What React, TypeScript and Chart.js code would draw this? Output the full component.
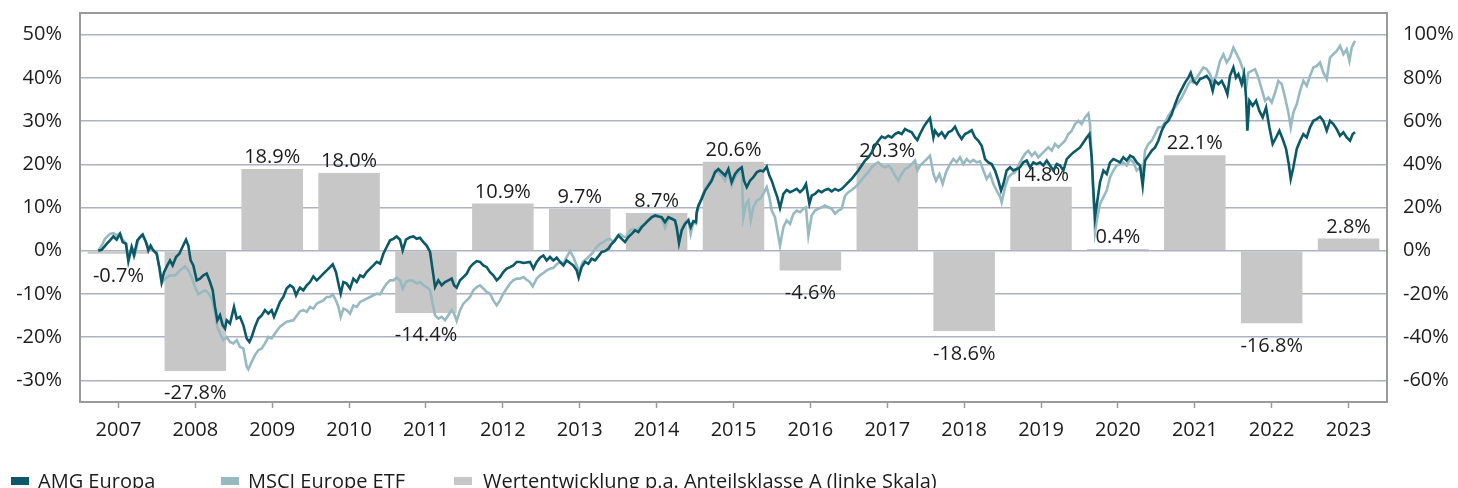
import React, { useEffect, useRef } from 'react';
import { Chart, registerables } from 'chart.js';

Chart.register(...registerables);

const FONT = '"Open Sans", sans-serif';
const TEXT = '#1c1c1c';

const years = ['2007', '2008', '2009', '2010', '2011', '2012', '2013', '2014', '2015', '2016', '2017', '2018', '2019', '2020', '2021', '2022', '2023'];
const annualReturns = [-0.7, -27.8, 18.9, 18.0, -14.4, 10.9, 9.7, 8.7, 20.6, -4.6, 20.3, -18.6, 14.8, 0.4, 22.1, -16.8, 2.8];
const leftTicks = [-30, -20, -10, 0, 10, 20, 30, 40, 50];
const rightTicks = [-60, -40, -20, 0, 20, 40, 60, 80, 100];

const amgDates = [
  2007.238, 2007.282, 2007.347, 2007.390, 2007.434, 2007.477, 2007.520, 2007.555, 2007.598, 2007.629, 2007.672, 2007.702, 2007.746, 2007.780, 2007.815, 2007.858, 2007.889, 2007.919, 2007.954, 2007.997,
  2008.032, 2008.062, 2008.093, 2008.136, 2008.171, 2008.205, 2008.249, 2008.292, 2008.322, 2008.353, 2008.379, 2008.409, 2008.439, 2008.474, 2008.518, 2008.561, 2008.604, 2008.648, 2008.691, 2008.726,
  2008.756, 2008.786, 2008.821, 2008.856, 2008.886, 2008.908, 2008.951, 2009.003, 2009.038, 2009.081, 2009.125, 2009.168, 2009.203, 2009.233, 2009.276, 2009.320, 2009.363, 2009.406, 2009.450, 2009.493,
  2009.523, 2009.558, 2009.601, 2009.645, 2009.688, 2009.732, 2009.775, 2009.810, 2009.840, 2009.862, 2009.905, 2009.949, 2009.992, 2010.035, 2010.079, 2010.122, 2010.166, 2010.209, 2010.252, 2010.287,
  2010.330, 2010.361, 2010.391, 2010.426, 2010.469, 2010.512, 2010.556, 2010.599, 2010.643, 2010.686, 2010.729, 2010.773, 2010.816, 2010.859, 2010.903, 2010.946, 2010.989, 2011.033, 2011.076, 2011.119,
  2011.162, 2011.197, 2011.240, 2011.292, 2011.336, 2011.379, 2011.422, 2011.466, 2011.509, 2011.553, 2011.587, 2011.618, 2011.661, 2011.704, 2011.748, 2011.791, 2011.834, 2011.865, 2011.899, 2011.943,
  2011.986, 2012.030, 2012.073, 2012.116, 2012.160, 2012.203, 2012.246, 2012.290, 2012.333, 2012.376, 2012.420, 2012.463, 2012.506, 2012.550, 2012.593, 2012.636, 2012.680, 2012.723, 2012.767, 2012.853,
  2012.897, 2012.940, 2012.983, 2013.027, 2013.070, 2013.113, 2013.157, 2013.200, 2013.244, 2013.287, 2013.330, 2013.374, 2013.417, 2013.460, 2013.486, 2013.525, 2013.569, 2013.612, 2013.655, 2013.699,
  2013.742, 2013.785, 2013.829, 2013.872, 2013.916, 2013.959, 2014.002, 2014.046, 2014.089, 2014.132, 2014.176, 2014.219, 2014.262, 2014.306, 2014.349, 2014.392, 2014.436, 2014.479, 2014.523, 2014.566,
  2014.609, 2014.653, 2014.696, 2014.739, 2014.761, 2014.791, 2014.826, 2014.869, 2014.913, 2014.943, 2014.978, 2015.012, 2015.021, 2015.043, 2015.086, 2015.130, 2015.173, 2015.216, 2015.260, 2015.303,
  2015.346, 2015.390, 2015.433, 2015.476, 2015.520, 2015.563, 2015.607, 2015.637, 2015.672, 2015.715, 2015.758, 2015.802, 2015.845, 2015.888, 2015.932, 2015.966, 2015.997, 2016.040, 2016.070, 2016.105,
  2016.149, 2016.192, 2016.235, 2016.279, 2016.322, 2016.365, 2016.409, 2016.443, 2016.487, 2016.517, 2016.560, 2016.604, 2016.647, 2016.690, 2016.734, 2016.777, 2016.821, 2016.864, 2016.907, 2016.951,
  2016.994, 2017.037, 2017.081, 2017.124, 2017.167, 2017.211, 2017.254, 2017.297, 2017.341, 2017.384, 2017.428, 2017.471, 2017.514, 2017.558, 2017.601, 2017.644, 2017.688, 2017.731, 2017.774, 2017.818,
  2017.861, 2017.891, 2017.926, 2017.970, 2018.013, 2018.056, 2018.100, 2018.121, 2018.165, 2018.208, 2018.251, 2018.295, 2018.338, 2018.381, 2018.425, 2018.468, 2018.511, 2018.555, 2018.598, 2018.642,
  2018.685, 2018.728, 2018.772, 2018.815, 2018.858, 2018.902, 2018.945, 2018.980, 2019.010, 2019.053, 2019.097, 2019.140, 2019.184, 2019.227, 2019.270, 2019.314, 2019.357, 2019.400, 2019.444, 2019.487,
  2019.530, 2019.574, 2019.617, 2019.660, 2019.704, 2019.747, 2019.791, 2019.834, 2019.877, 2019.921, 2019.964, 2020.007, 2020.051, 2020.094, 2020.129, 2020.159, 2020.181, 2020.202, 2020.233, 2020.267,
  2020.311, 2020.354, 2020.398, 2020.441, 2020.484, 2020.528, 2020.571, 2020.614, 2020.658, 2020.701, 2020.744, 2020.788, 2020.822, 2020.853, 2020.896, 2020.940, 2020.983, 2021.026, 2021.070, 2021.113,
  2021.156, 2021.200, 2021.243, 2021.286, 2021.330, 2021.373, 2021.416, 2021.447, 2021.481, 2021.525, 2021.568, 2021.612, 2021.655, 2021.698, 2021.733, 2021.763, 2021.807, 2021.850, 2021.893, 2021.924,
  2021.958, 2022.002, 2022.036, 2022.067, 2022.110, 2022.140, 2022.167, 2022.184, 2022.210, 2022.253, 2022.297, 2022.340, 2022.383, 2022.427, 2022.470, 2022.513, 2022.557, 2022.600, 2022.643, 2022.687,
  2022.722, 2022.748, 2022.782, 2022.826, 2022.869, 2022.912, 2022.956, 2022.999, 2023.042, 2023.086, 2023.129, 2023.172, 2023.216, 2023.259, 2023.302, 2023.346, 2023.389, 2023.433, 2023.476, 2023.519,
  2023.554, 2023.584,
];
const amgValues = [
  0, 0.4, 3.2, 4.8, 6.6, 5.1, 7.8, 4.0, 3.2, -4.9, 1.7, -2.2, 4.8, 6.3, 7.5, 4.0, 0.1, 2.4, 0.1, -1.4,
  -7.6, -14.5, -9.9, -6.8, -4.5, -6.8, -2.9, -1.4, 0.9, 3.2, 5.1, 2.4, -4.5, -6.8, -13.7, -12.9, -11.4, -10.6, -14.5, -18.3,
  -26.0, -32.2, -29.9, -34.5, -36.0, -32.2, -33.7, -26.0, -31.4, -30.6, -34.5, -40.6, -42.2, -39.9, -35.2, -31.4, -29.9, -27.5, -29.1, -27.5,
  -30.6, -27.5, -23.7, -21.4, -17.5, -16.0, -17.1, -20.6, -18.3, -17.1, -18.3, -16.0, -14.5, -11.9, -13.7, -12.2, -10.6, -9.1, -7.6, -6.3,
  -9.9, -15.2, -19.9, -14.5, -15.2, -17.5, -12.9, -14.5, -11.4, -12.2, -9.9, -8.3, -6.8, -5.2, -6.0, -1.4, 1.7, 4.8, 5.5, 6.6,
  5.1, 0.1, 5.1, 6.3, 6.6, 5.5, 6.0, 4.0, 2.4, -0.6, -9.1, -16.8, -13.7, -16.0, -14.5, -13.7, -12.9, -16.0, -17.1, -13.7,
  -12.2, -10.6, -7.6, -6.0, -4.8, -5.2, -6.8, -7.6, -9.9, -11.4, -13.7, -12.2, -9.9, -8.3, -7.6, -6.8, -5.2, -5.2, -5.7, -5.2,
  -8.3, -5.2, -3.2, -2.2, -4.5, -2.9, -4.5, -3.2, -5.2, -6.8, -4.5, -5.7, -6.8, -9.1, -12.5, -7.6, -5.2, -6.0, -3.7, -4.5,
  -2.6, -0.6, -0.2, 0.9, 3.2, 4.8, 7.1, 5.5, 4.0, 6.3, 7.8, 9.4, 8.6, 10.9, 12.4, 14.0, 15.5, 16.3, 15.8, 15.5,
  13.2, 15.5, 14.8, 14.0, 10.9, 3.5, 9.4, 12.4, 14.0, 10.9, 13.7, 13.2, 17.8, 20.9, 24.0, 27.8, 30.1, 32.4, 36.3, 37.8,
  36.3, 34.8, 37.8, 31.7, 35.5, 37.4, 38.6, 32.4, 29.4, 32.4, 34.0, 36.3, 37.1, 36.8, 38.9, 34.8, 32.4, 27.8, 24.8, 19.8,
  26.3, 28.1, 27.1, 27.8, 28.6, 27.1, 28.6, 30.9, 21.7, 25.5, 26.3, 27.8, 27.1, 28.1, 28.6, 27.5, 28.6, 27.8, 28.6, 30.1,
  31.7, 33.2, 35.2, 37.1, 39.4, 41.7, 43.2, 45.5, 48.6, 50.9, 52.8, 52.1, 53.2, 52.4, 54.0, 54.8, 54.0, 56.3, 55.5, 54.8,
  52.4, 51.2, 54.0, 57.1, 59.4, 61.4, 52.4, 55.5, 53.2, 54.8, 52.4, 54.8, 55.5, 57.4, 54.0, 51.7, 54.0, 54.8, 55.8, 52.4,
  50.9, 48.6, 42.4, 40.9, 40.1, 37.1, 32.4, 27.8, 30.9, 37.1, 38.6, 37.1, 37.8, 38.6, 40.9, 41.7, 38.6, 40.9, 40.1, 40.9,
  39.4, 41.7, 39.4, 37.1, 40.1, 39.4, 37.1, 42.4, 44.0, 45.5, 46.6, 47.8, 50.1, 52.4, 54.0, 43.2, 27.8, 15.5, 23.2, 31.7,
  37.1, 35.5, 40.9, 42.4, 41.7, 40.9, 43.2, 41.7, 44.0, 43.2, 40.9, 39.4, 30.1, 41.7, 44.0, 46.3, 47.8, 50.9, 55.5, 58.6,
  60.1, 63.2, 67.8, 71.7, 74.8, 77.8, 80.1, 82.4, 78.6, 77.1, 79.4, 80.1, 80.9, 78.6, 74.0, 78.6, 77.1, 78.6, 75.5, 72.4,
  80.9, 84.8, 80.1, 81.7, 77.1, 81.7, 70.9, 55.5, 69.4, 67.1, 69.4, 64.7, 61.7, 66.3, 57.1, 49.4, 52.4, 55.5, 51.7, 47.1,
  40.1, 33.2, 38.6, 47.1, 50.9, 53.9, 52.4, 57.1, 60.1, 60.9, 62.0, 60.1, 55.5, 60.1, 58.6, 56.3, 53.2, 54.8, 52.4, 50.9,
  54.0, 54.8,
];

const msciDates = [
  2007.238, 2007.282, 2007.325, 2007.390, 2007.434, 2007.477, 2007.520, 2007.555, 2007.598, 2007.629, 2007.672, 2007.715, 2007.759, 2007.815, 2007.858, 2007.902, 2007.954, 2007.997,
  2008.032, 2008.062, 2008.106, 2008.171, 2008.236, 2008.301, 2008.366, 2008.409, 2008.452, 2008.496, 2008.539, 2008.583, 2008.626, 2008.669, 2008.713, 2008.756, 2008.786, 2008.821, 2008.864, 2008.908,
  2008.951, 2008.994, 2009.038, 2009.081, 2009.125, 2009.168, 2009.190, 2009.233, 2009.276, 2009.320, 2009.363, 2009.406, 2009.450, 2009.493, 2009.536, 2009.601, 2009.688, 2009.775, 2009.862, 2009.905,
  2009.949, 2009.992, 2010.035, 2010.079, 2010.122, 2010.166, 2010.209, 2010.252, 2010.287, 2010.330, 2010.361, 2010.391, 2010.426, 2010.469, 2010.512, 2010.556, 2010.599, 2010.643, 2010.686, 2010.729,
  2010.773, 2010.816, 2010.859, 2010.903, 2010.946, 2010.989, 2011.033, 2011.076, 2011.119, 2011.162, 2011.197, 2011.240, 2011.292, 2011.336, 2011.379, 2011.422, 2011.466, 2011.509, 2011.553, 2011.587,
  2011.618, 2011.661, 2011.704, 2011.748, 2011.791, 2011.834, 2011.865, 2011.899, 2011.943, 2011.986, 2012.030, 2012.073, 2012.116, 2012.160, 2012.203, 2012.246, 2012.290, 2012.333, 2012.376, 2012.420,
  2012.463, 2012.506, 2012.550, 2012.593, 2012.636, 2012.680, 2012.723, 2012.767, 2012.810, 2012.853, 2012.888, 2012.940, 2012.983, 2013.027, 2013.070, 2013.113, 2013.157, 2013.200, 2013.244, 2013.287,
  2013.330, 2013.374, 2013.417, 2013.460, 2013.495, 2013.538, 2013.590, 2013.634, 2013.677, 2013.721, 2013.764, 2013.807, 2013.850, 2013.894, 2013.937, 2013.981, 2014.024, 2014.067, 2014.111, 2014.154,
  2014.197, 2014.241, 2014.306, 2014.349, 2014.392, 2014.436, 2014.479, 2014.523, 2014.566, 2014.609, 2014.653, 2014.696, 2014.739, 2014.791, 2014.826, 2014.869, 2014.913, 2014.943, 2014.978, 2015.012,
  2015.021, 2015.065, 2015.130, 2015.173, 2015.216, 2015.260, 2015.303, 2015.346, 2015.390, 2015.433, 2015.476, 2015.520, 2015.563, 2015.607, 2015.628, 2015.663, 2015.693, 2015.724, 2015.758, 2015.802,
  2015.845, 2015.888, 2015.932, 2015.966, 2015.997, 2016.040, 2016.070, 2016.105, 2016.149, 2016.192, 2016.235, 2016.279, 2016.322, 2016.365, 2016.409, 2016.443, 2016.474, 2016.517, 2016.560, 2016.604,
  2016.647, 2016.690, 2016.734, 2016.777, 2016.821, 2016.864, 2016.907, 2016.951, 2016.994, 2017.037, 2017.081, 2017.124, 2017.167, 2017.211, 2017.254, 2017.297, 2017.341, 2017.384, 2017.428, 2017.471,
  2017.514, 2017.558, 2017.601, 2017.644, 2017.688, 2017.731, 2017.774, 2017.818, 2017.861, 2017.891, 2017.926, 2017.970, 2018.013, 2018.056, 2018.100, 2018.134, 2018.178, 2018.221, 2018.264, 2018.316,
  2018.360, 2018.403, 2018.446, 2018.490, 2018.533, 2018.577, 2018.620, 2018.663, 2018.707, 2018.750, 2018.793, 2018.837, 2018.880, 2018.923, 2018.967, 2018.988, 2019.032, 2019.075, 2019.119, 2019.162,
  2019.205, 2019.249, 2019.292, 2019.335, 2019.379, 2019.422, 2019.465, 2019.509, 2019.552, 2019.595, 2019.639, 2019.682, 2019.726, 2019.769, 2019.812, 2019.856, 2019.899, 2019.942, 2019.986, 2020.029,
  2020.072, 2020.116, 2020.137, 2020.159, 2020.181, 2020.202, 2020.233, 2020.267, 2020.311, 2020.354, 2020.398, 2020.441, 2020.484, 2020.528, 2020.571, 2020.614, 2020.658, 2020.701, 2020.744, 2020.788,
  2020.822, 2020.853, 2020.896, 2020.940, 2020.983, 2021.026, 2021.070, 2021.113, 2021.156, 2021.200, 2021.243, 2021.286, 2021.330, 2021.373, 2021.416, 2021.447, 2021.481, 2021.525, 2021.568, 2021.612,
  2021.655, 2021.698, 2021.742, 2021.785, 2021.828, 2021.872, 2021.915, 2021.958, 2022.002, 2022.045, 2022.088, 2022.132, 2022.167, 2022.197, 2022.240, 2022.284, 2022.327, 2022.370, 2022.414, 2022.457,
  2022.500, 2022.544, 2022.587, 2022.631, 2022.674, 2022.717, 2022.748, 2022.782, 2022.826, 2022.869, 2022.912, 2022.956, 2022.999, 2023.042, 2023.086, 2023.129, 2023.172, 2023.216, 2023.259, 2023.302,
  2023.346, 2023.389, 2023.433, 2023.476, 2023.511, 2023.541, 2023.571, 2023.584,
];
const msciValues = [
  0, 2.4, 5.5, 7.8, 8.1, 7.1, 8.1, 5.1, 3.5, -3.7, 1.7, -1.4, 5.1, 7.1, 4.0, 0.9, 0.1, -0.6,
  -8.3, -15.2, -12.9, -11.4, -11.4, -9.1, -7.2, -9.1, -12.2, -16.8, -20.2, -19.1, -18.3, -19.6, -22.2, -28.3, -35.2, -38.3, -41.4, -39.9,
  -42.2, -42.9, -41.4, -44.5, -45.2, -53.7, -54.9, -51.4, -48.3, -46.0, -45.2, -42.9, -39.9, -40.6, -38.3, -35.2, -32.9, -32.2, -28.0, -27.5,
  -28.3, -26.0, -26.8, -24.5, -23.7, -23.0, -21.4, -21.4, -20.2, -23.0, -26.0, -30.6, -26.8, -27.5, -29.1, -25.3, -26.0, -23.7, -23.0, -22.2,
  -21.4, -20.6, -19.9, -20.2, -17.5, -15.2, -13.7, -13.7, -12.5, -13.7, -17.5, -14.5, -13.7, -14.0, -15.2, -14.5, -16.0, -16.8, -18.3, -24.5,
  -29.9, -31.4, -30.6, -32.2, -29.9, -27.5, -29.1, -32.5, -27.5, -24.5, -23.0, -21.4, -18.3, -16.8, -16.0, -17.5, -19.1, -19.9, -23.0, -25.3,
  -23.0, -19.9, -17.5, -15.2, -13.7, -12.9, -12.9, -12.2, -13.4, -14.5, -16.5, -12.9, -11.4, -10.3, -9.1, -8.3, -7.9, -6.3, -5.2, -6.0,
  -2.9, -0.2, -2.9, -6.8, -9.9, -5.2, -3.7, -2.2, -0.6, 1.7, 3.2, 4.0, 5.1, 5.5, 4.0, 6.3, 7.8, 6.6, 6.3, 9.4,
  10.1, 9.7, 11.4, 12.7, 14.2, 15.8, 16.0, 16.3, 15.0, 10.5, 15.2, 15.0, 13.7, 4.5, 10.1, 13.0, 14.5, 7.8, 13.2, 12.5,
  17.1, 22.4, 28.6, 30.9, 33.2, 37.1, 36.3, 34.8, 32.4, 36.3, 30.1, 34.0, 36.3, 37.1, 15.5, 21.7, 23.2, 14.0, 20.1, 23.2,
  24.0, 26.3, 29.4, 24.8, 18.6, 15.5, 9.4, 2.4, 10.9, 14.0, 12.4, 17.1, 18.6, 17.8, 19.4, 20.1, 7.1, 16.3, 18.6, 19.4,
  20.1, 20.9, 20.1, 19.4, 17.1, 18.6, 19.4, 25.5, 27.1, 28.1, 29.4, 30.9, 32.8, 34.8, 36.3, 38.6, 40.1, 40.9, 39.4, 38.6,
  39.4, 37.8, 34.8, 32.4, 35.5, 37.8, 38.6, 40.1, 41.7, 37.1, 39.4, 40.9, 42.4, 44.0, 35.5, 32.4, 35.5, 30.9, 36.3, 40.1,
  42.4, 40.9, 43.2, 40.1, 42.4, 40.9, 42.0, 40.9, 41.4, 37.1, 33.2, 35.5, 30.9, 27.8, 25.1, 22.4, 29.4, 34.0, 35.5, 36.3,
  39.4, 42.4, 44.8, 46.3, 44.0, 45.5, 43.2, 44.8, 46.3, 47.8, 46.3, 49.4, 47.8, 49.4, 50.9, 54.0, 55.5, 58.6, 60.1, 58.6,
  61.7, 63.5, 58.6, 43.2, 24.8, 8.6, 15.5, 21.7, 24.8, 27.8, 34.0, 37.1, 39.4, 40.1, 40.9, 39.4, 42.4, 40.9, 37.1, 38.6,
  35.5, 46.3, 49.4, 50.9, 53.9, 57.1, 57.1, 59.4, 62.4, 64.7, 66.3, 68.6, 70.9, 74.0, 77.1, 78.6, 77.8, 80.1, 82.4, 84.8,
  84.0, 81.7, 77.1, 81.7, 87.8, 90.9, 87.1, 89.4, 94.0, 90.9, 87.8, 83.2, 75.5, 82.4, 83.2, 84.0, 80.1, 74.8, 69.4, 70.9,
  68.6, 73.2, 78.6, 77.1, 70.9, 64.0, 57.1, 64.0, 67.8, 74.0, 78.6, 76.3, 80.9, 84.8, 85.5, 87.1, 82.4, 79.4, 89.4, 90.9,
  92.4, 94.8, 90.9, 93.2, 87.8, 94.0, 96.3, 97.1,
];

const AMG_COLOR = '#0b5966';
const MSCI_COLOR = '#97bac1';
const BAR_COLOR = '#c7c7c7';
const GRID_COLOR = '#aeb1c0';
const FRAME_COLOR = '#9a9a9a';

const legendItems = [
  { label: 'AMG Europa', color: AMG_COLOR, box: 11, text: 38 },
  { label: 'MSCI Europe ETF', color: MSCI_COLOR, box: 221, text: 248 },
  { label: 'Wertentwicklung p.a. Anteilsklasse A (linke Skala)', color: BAR_COLOR, box: 454, text: 483 },
];

const framePlugin = {
  id: 'frame',
  beforeDatasetsDraw(chart: any) {
    const { ctx, chartArea } = chart;
    ctx.save();
    ctx.strokeStyle = FRAME_COLOR;
    ctx.lineWidth = 2;
    ctx.strokeRect(chartArea.left, chartArea.top, chartArea.right - chartArea.left, chartArea.bottom - chartArea.top);
    ctx.restore();
  },
};

const barLabelPlugin = {
  id: 'barLabels',
  afterDatasetDraw(chart: any, args: any) {
    if (args.index !== 0) return;
    const { ctx } = chart;
    ctx.save();
    ctx.font = `20px ${FONT}`;
    ctx.fillStyle = TEXT;
    ctx.textAlign = 'center';
    ctx.textBaseline = 'alphabetic';
    args.meta.data.forEach((bar: any, i: number) => {
      const v = annualReturns[i];
      const y = v >= 0 ? bar.y - 6 : bar.y + 28.5;
      ctx.fillText(`${v.toFixed(1)}%`, bar.x, y);
    });
    ctx.restore();
  },
};

const noEdgePadding = (s: any) => {
  s.paddingTop = 0;
  s.paddingBottom = 0;
  s.paddingLeft = 0;
  s.paddingRight = 0;
};

export default function App() {
  const ref = useRef<HTMLCanvasElement>(null);

  useEffect(() => {
    // each calendar year occupies [year, year + 1); the bar sits at the middle of its year
    const bars = years.map((y, i) => ({ x: Number(y) + 0.5, y: annualReturns[i] }));
    const amg = amgDates.map((d, i) => ({ x: d, y: amgValues[i] }));
    const msci = msciDates.map((d, i) => ({ x: d, y: msciValues[i] }));
    const chart = new Chart(ref.current as HTMLCanvasElement, {
      type: 'bar',
      data: {
        datasets: [
          {
            type: 'bar',
            label: 'Wertentwicklung p.a. Anteilsklasse A (linke Skala)',
            data: bars,
            backgroundColor: BAR_COLOR,
            borderWidth: 0,
            barPercentage: 0.8,
            categoryPercentage: 1,
            grouped: false,
            xAxisID: 'x',
            yAxisID: 'y',
            order: 3,
          } as any,
          {
            type: 'line',
            label: 'MSCI Europe ETF',
            data: msci,
            borderColor: MSCI_COLOR,
            borderWidth: 2.6,
            pointRadius: 0,
            tension: 0,
            xAxisID: 'x',
            yAxisID: 'y2',
            order: 2,
          } as any,
          {
            type: 'line',
            label: 'AMG Europa',
            data: amg,
            borderColor: AMG_COLOR,
            borderWidth: 2.6,
            pointRadius: 0,
            tension: 0,
            xAxisID: 'x',
            yAxisID: 'y2',
            order: 1,
          } as any,
        ],
      },
      options: {
        responsive: false,
        animation: false,
        devicePixelRatio: 1,
        layout: { padding: { top: 13, left: 0, right: 0, bottom: 0 } },
        plugins: { legend: { display: false }, tooltip: { enabled: false } },
        scales: {
          x: {
            type: 'linear',
            min: Number(years[0]),
            max: Number(years[years.length - 1]) + 1,
            offset: false,
            afterBuildTicks: (s: any) => { s.ticks = years.map((y) => ({ value: Number(y) + 0.5 })); },
            border: { display: false },
            grid: { display: true, drawOnChartArea: false, drawTicks: true, tickLength: 6, tickColor: FRAME_COLOR, tickWidth: 1.5, offset: false },
            ticks: {
              font: { family: FONT, size: 20 },
              color: TEXT,
              padding: 10,
              maxRotation: 0,
              autoSkip: false,
              callback: (_v: any, i: number) => years[i],
            },
            afterFit: (s: any) => { noEdgePadding(s); s.height = 86; },
          },
          y: {
            position: 'left',
            min: -35,
            max: 55,
            afterBuildTicks: (s: any) => { s.ticks = leftTicks.map((v) => ({ value: v })); },
            border: { display: false },
            grid: { color: GRID_COLOR, lineWidth: 1.5, drawTicks: false },
            ticks: { font: { family: FONT, size: 20 }, color: TEXT, padding: 18, callback: (v: any) => `${v}%` },
            afterFit: (s: any) => { noEdgePadding(s); s.width = 80; },
          },
          y2: {
            position: 'right',
            min: -70,
            max: 110,
            afterBuildTicks: (s: any) => { s.ticks = rightTicks.map((v) => ({ value: v })); },
            border: { display: false },
            grid: { display: false, drawTicks: false },
            ticks: { font: { family: FONT, size: 20 }, color: TEXT, padding: 16, callback: (v: any) => `${v}%` },
            afterFit: (s: any) => { noEdgePadding(s); s.width = 71; },
          },
        } as any,
      },
      plugins: [framePlugin, barLabelPlugin],
    });
    return () => chart.destroy();
  }, []);

  return (
    <div style={{ position: 'fixed', left: 0, top: 0, width: 1458, height: 488, overflow: 'hidden', background: '#fff' }}>
      <canvas ref={ref} width={1458} height={488} style={{ display: 'block', width: 1458, height: 488 }} />
      {legendItems.map((it) => (
        <React.Fragment key={it.label}>
          <div style={{ position: 'absolute', left: it.box, top: 477, width: 18, height: 8, background: it.color }} />
          <div style={{ position: 'absolute', left: it.text, top: 467, font: `20px ${FONT}`, color: TEXT, whiteSpace: 'nowrap' }}>{it.label}</div>
        </React.Fragment>
      ))}
    </div>
  );
}
